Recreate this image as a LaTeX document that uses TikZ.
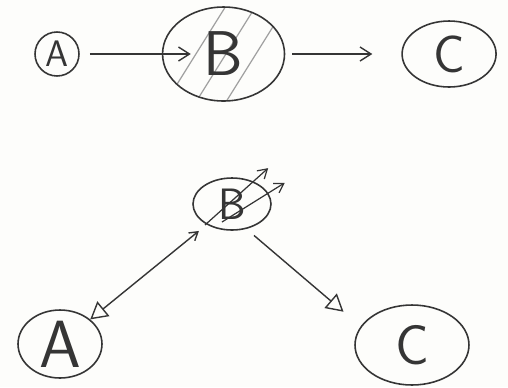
\documentclass[tikz,border=0pt]{standalone}
\usepackage{tikz}
\usetikzlibrary{arrows.meta,positioning,shapes.geometric}
\definecolor{pencil}{HTML}{353535}
\definecolor{graphite}{HTML}{A0A0A0}
\definecolor{paper}{HTML}{FDFDFB}
\tikzset{
  bubble/.style={ellipse, draw=pencil, line width=0.9pt, inner sep=0pt, text=pencil, font=\sffamily},
  hatched/.style={path picture={\foreach \k in {-1.14,-0.54,0.06} \draw[graphite, line width=0.7pt] ([xshift=\k cm]path picture bounding box.south) -- ++(58:2.4cm);}},
  hookedge/.style={-{Straight Barb[length=2.2mm,width=2.8mm]}, line width=0.8pt, draw=pencil},
  openedge/.style={-{Triangle[open,length=3.4mm,width=3.8mm]}, line width=0.8pt, draw=pencil},
  backedge/.style={{Straight Barb[length=1.6mm,width=2mm]}-{Triangle[open,length=3.4mm,width=3.8mm]}, line width=0.8pt, draw=pencil},
  scribble/.style={-{Straight Barb[length=1.8mm,width=2.2mm]}, line width=0.7pt, draw=pencil}
}
\begin{document}
\begin{tikzpicture}[x=0.02cm, y=-0.02cm]
  \path[use as bounding box, fill=paper] (0,0) rectangle (508,387);
  % top row: A -> B -> C
  \node[bubble, minimum width=0.88cm, minimum height=0.88cm, font=\sffamily\fontsize{21}{21}\selectfont] (topA) at (57,54) {A};
  \node[bubble, hatched, right=1.64cm of topA, minimum width=2.44cm, minimum height=1.88cm, font=\sffamily\fontsize{36}{36}\selectfont] (topB) {B};
  \node[bubble, right=2.32cm of topB, minimum width=1.88cm, minimum height=1.32cm, font=\sffamily\fontsize{30}{30}\selectfont] (topC) {C};
  \draw[hookedge, shorten <=0.2cm, shorten >=-0.58cm] (topA) -- (topB);
  \draw[hookedge, shorten <=0.14cm, shorten >=0.58cm] (topB) -- (topC);
  % bottom row: B -> A, B -> C
  \node[bubble, minimum width=1.56cm, minimum height=1.04cm, font=\sffamily\fontsize{25}{25}\selectfont] (botB) at (232,204) {B};
  \node[bubble, minimum width=1.68cm, minimum height=1.36cm, font=\sffamily\fontsize{38}{38}\selectfont] (botA) at (60,344) {A};
  \node[bubble, minimum width=2.28cm, minimum height=1.6cm, font=\sffamily\fontsize{32}{32}\selectfont] (botC) at (412,345) {C};
  \draw[scribble] ([xshift=-0.54cm, yshift=-0.42cm]botB.center) -- ++(42:1.7cm);
  \draw[scribble] ([xshift=-0.2cm, yshift=-0.36cm]botB.center) -- ++(32:1.48cm);
  \draw[backedge, shorten <=0.2cm] (botB) -- (botA);
  \draw[openedge, shorten <=0.2cm, shorten >=0.45cm] (botB.-60) -- (botC.160);
\end{tikzpicture}
\end{document}
